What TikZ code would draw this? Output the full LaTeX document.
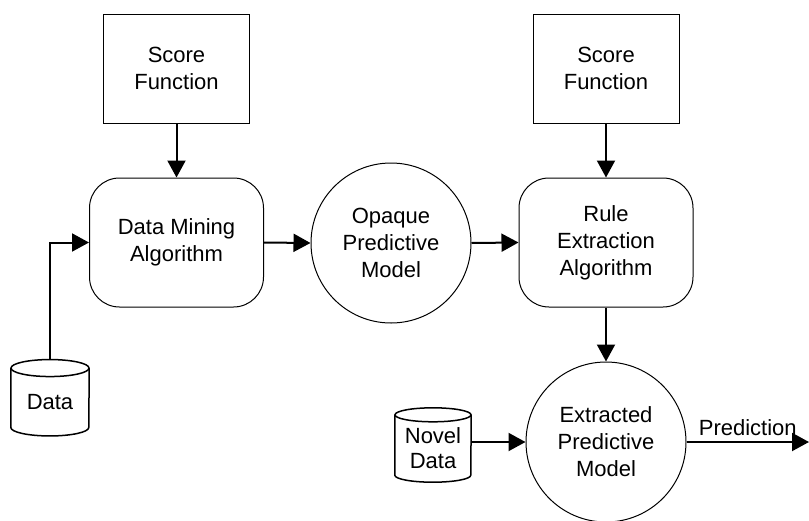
\documentclass[tikz,border=0pt]{standalone}
\usepackage{fontspec}
\setmainfont{Liberation Sans}
\usetikzlibrary{arrows.meta}
\begin{document}
\begin{tikzpicture}[x=1pt,y=-1pt,
  every node/.style={font=\fontsize{22}{27}\selectfont, align=center, inner sep=0pt},
  scorebox/.style={draw, line width=1pt, minimum width=146pt, minimum height=109pt},
  algbox/.style={draw, line width=1pt, rounded corners=30pt, minimum width=174pt, minimum height=129pt},
  model/.style={draw, circle, line width=1pt, minimum size=160pt},
  conn/.style={line width=2pt, arrows={-Triangle[length=17pt,width=18pt]}},
  cylline/.style={line width=1.5pt}]
\useasboundingbox (0,0) rectangle (809,520);
\node[scorebox] (sf1) at (176.5,68.5) {Score\\Function};
\node[scorebox] (sf2) at (606,68.5) {Score\\Function};
\node[algbox] (dma) at (176.5,242.5) {Data Mining\\Algorithm};
\node[algbox] (rea) at (606,242.5) {Rule\\Extraction\\Algorithm};
\node[model] (opm) at (391,243) {Opaque\\Predictive\\Model};
\node[model] (epm) at (606,442) {Extracted\\Predictive\\Model};
\node[minimum width=78pt, minimum height=67.5pt] (data) at (50,402) {Data};
\node[minimum width=76pt, minimum height=67pt, font=\fontsize{22}{25}\selectfont] (novel) at (433,448.5) {Novel\\Data};
% cylinders
\draw[cylline] (data.north west) -- ([yshift=8.5pt]data.south west)
  arc[start angle=180, end angle=360, x radius=39pt, y radius=8.5pt] -- (data.north east);
\draw[cylline] (data.north) ellipse[x radius=39pt, y radius=8.5pt];
\draw[cylline] (novel.north west) -- ([yshift=7pt]novel.south west)
  arc[start angle=180, end angle=360, x radius=38pt, y radius=7pt] -- (novel.north east);
\draw[cylline] (novel.north) ellipse[x radius=38pt, y radius=7pt];
% connectors
\draw[conn] ([yshift=8.5pt]data.north) |- (dma.west);
\draw[conn] (sf1.south) -- (dma.north);
\draw[conn] (dma.east) -- (opm.west);
\draw[conn] (opm.east) -- (rea.west);
\draw[conn] (sf2.south) -- (rea.north);
\draw[conn] (rea.south) -- (epm.north);
\draw[conn] (novel.east |- epm.west) -- (epm.west);
\coordinate (pend) at (809,442);
\draw[conn] (epm.east) -- (pend) node[midway, above=5pt] (plabel) {Prediction};
\end{tikzpicture}
\end{document}
